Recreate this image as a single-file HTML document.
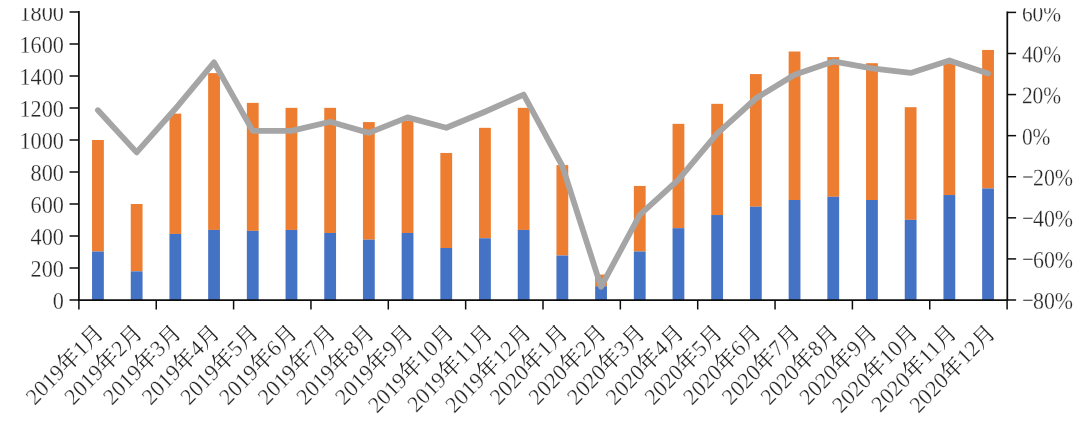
<!DOCTYPE html>
<html lang="zh"><head><meta charset="utf-8"><title>chart</title>
<style>
html,body{margin:0;padding:0;background:#fff;}
body{width:1080px;height:430px;overflow:hidden;}
svg{display:block;}
text{font-family:"Liberation Serif", "Noto Serif CJK SC", serif;font-size:22.4px;fill:#262626;}
.d,.d text{font-size:23.9px;stroke:#fff;stroke-width:0.26px;}
.m{font-size:21.9px;stroke:none;}
.x{font-size:22.8px;stroke:#fff;stroke-width:0.26px;}
</style></head><body>
<svg width="1080" height="430" viewBox="0 0 1080 430">
<rect width="1080" height="430" fill="#ffffff"/>
<g shape-rendering="auto">
<rect x="92.05" y="140.00" width="11.8" height="111.52" fill="#ED7D31"/><rect x="92.05" y="251.52" width="11.8" height="48.48" fill="#4472C4"/>
<rect x="130.75" y="204.00" width="11.8" height="67.36" fill="#ED7D31"/><rect x="130.75" y="271.36" width="11.8" height="28.64" fill="#4472C4"/>
<rect x="169.45" y="113.60" width="11.8" height="120.32" fill="#ED7D31"/><rect x="169.45" y="233.92" width="11.8" height="66.08" fill="#4472C4"/>
<rect x="208.15" y="73.12" width="11.8" height="156.80" fill="#ED7D31"/><rect x="208.15" y="229.92" width="11.8" height="70.08" fill="#4472C4"/>
<rect x="246.85" y="102.88" width="11.8" height="128.00" fill="#ED7D31"/><rect x="246.85" y="230.88" width="11.8" height="69.12" fill="#4472C4"/>
<rect x="285.55" y="107.84" width="11.8" height="122.08" fill="#ED7D31"/><rect x="285.55" y="229.92" width="11.8" height="70.08" fill="#4472C4"/>
<rect x="324.25" y="107.84" width="11.8" height="125.12" fill="#ED7D31"/><rect x="324.25" y="232.96" width="11.8" height="67.04" fill="#4472C4"/>
<rect x="362.95" y="122.08" width="11.8" height="117.60" fill="#ED7D31"/><rect x="362.95" y="239.68" width="11.8" height="60.32" fill="#4472C4"/>
<rect x="401.65" y="120.48" width="11.8" height="112.48" fill="#ED7D31"/><rect x="401.65" y="232.96" width="11.8" height="67.04" fill="#4472C4"/>
<rect x="440.35" y="152.96" width="11.8" height="95.04" fill="#ED7D31"/><rect x="440.35" y="248.00" width="11.8" height="52.00" fill="#4472C4"/>
<rect x="479.05" y="127.84" width="11.8" height="110.40" fill="#ED7D31"/><rect x="479.05" y="238.24" width="11.8" height="61.76" fill="#4472C4"/>
<rect x="517.75" y="107.84" width="11.8" height="122.08" fill="#ED7D31"/><rect x="517.75" y="229.92" width="11.8" height="70.08" fill="#4472C4"/>
<rect x="556.45" y="165.12" width="11.8" height="90.40" fill="#ED7D31"/><rect x="556.45" y="255.52" width="11.8" height="44.48" fill="#4472C4"/>
<rect x="595.15" y="274.56" width="11.8" height="11.68" fill="#ED7D31"/><rect x="595.15" y="286.24" width="11.8" height="13.76" fill="#4472C4"/>
<rect x="633.85" y="185.92" width="11.8" height="65.60" fill="#ED7D31"/><rect x="633.85" y="251.52" width="11.8" height="48.48" fill="#4472C4"/>
<rect x="672.55" y="123.84" width="11.8" height="104.32" fill="#ED7D31"/><rect x="672.55" y="228.16" width="11.8" height="71.84" fill="#4472C4"/>
<rect x="711.25" y="103.84" width="11.8" height="111.20" fill="#ED7D31"/><rect x="711.25" y="215.04" width="11.8" height="84.96" fill="#4472C4"/>
<rect x="749.95" y="74.08" width="11.8" height="132.64" fill="#ED7D31"/><rect x="749.95" y="206.72" width="11.8" height="93.28" fill="#4472C4"/>
<rect x="788.65" y="51.52" width="11.8" height="148.48" fill="#ED7D31"/><rect x="788.65" y="200.00" width="11.8" height="100.00" fill="#4472C4"/>
<rect x="827.35" y="57.12" width="11.8" height="139.68" fill="#ED7D31"/><rect x="827.35" y="196.80" width="11.8" height="103.20" fill="#4472C4"/>
<rect x="866.05" y="63.20" width="11.8" height="136.80" fill="#ED7D31"/><rect x="866.05" y="200.00" width="11.8" height="100.00" fill="#4472C4"/>
<rect x="904.75" y="107.20" width="11.8" height="112.64" fill="#ED7D31"/><rect x="904.75" y="219.84" width="11.8" height="80.16" fill="#4472C4"/>
<rect x="943.45" y="63.36" width="11.8" height="131.68" fill="#ED7D31"/><rect x="943.45" y="195.04" width="11.8" height="104.96" fill="#4472C4"/>
<rect x="982.15" y="49.92" width="11.8" height="138.56" fill="#ED7D31"/><rect x="982.15" y="188.48" width="11.8" height="111.52" fill="#4472C4"/>
</g>
<polyline points="97.95,110.20 136.65,152.40 175.35,108.80 214.05,62.40 252.75,130.90 291.45,130.90 330.15,121.80 368.85,132.90 407.55,117.40 446.25,127.80 484.95,111.70 523.65,94.60 562.35,166.00 601.05,286.80 639.75,214.80 678.45,179.70 717.15,133.60 755.85,98.50 794.55,74.70 833.25,61.40 871.95,68.40 910.65,72.90 949.35,60.40 988.05,73.40" fill="none" stroke="#A5A5A5" stroke-width="5.8" stroke-linejoin="round" stroke-linecap="round"/>
<g stroke="#0d0d0d" stroke-width="1.75" fill="none">
<line x1="78.9" y1="11.1" x2="78.9" y2="301.0"/>
<line x1="1007.3000000000001" y1="11.55" x2="1007.3000000000001" y2="301.0"/>
<line x1="77.9" y1="300.0" x2="1008.1" y2="300.0"/>
</g>
<g stroke="#0d0d0d" stroke-width="1.5" fill="none">
<line x1="69.5" y1="300.00" x2="78.9" y2="300.00"/><line x1="69.5" y1="268.00" x2="78.9" y2="268.00"/><line x1="69.5" y1="236.00" x2="78.9" y2="236.00"/><line x1="69.5" y1="204.00" x2="78.9" y2="204.00"/><line x1="69.5" y1="172.00" x2="78.9" y2="172.00"/><line x1="69.5" y1="140.00" x2="78.9" y2="140.00"/><line x1="69.5" y1="108.00" x2="78.9" y2="108.00"/><line x1="69.5" y1="76.00" x2="78.9" y2="76.00"/><line x1="69.5" y1="44.00" x2="78.9" y2="44.00"/><line x1="69.5" y1="12.00" x2="78.9" y2="12.00"/>
<line x1="1007.3000000000001" y1="300.00" x2="1016.1" y2="300.00"/><line x1="1007.3000000000001" y1="258.91" x2="1016.1" y2="258.91"/><line x1="1007.3000000000001" y1="217.83" x2="1016.1" y2="217.83"/><line x1="1007.3000000000001" y1="176.74" x2="1016.1" y2="176.74"/><line x1="1007.3000000000001" y1="135.66" x2="1016.1" y2="135.66"/><line x1="1007.3000000000001" y1="94.57" x2="1016.1" y2="94.57"/><line x1="1007.3000000000001" y1="53.49" x2="1016.1" y2="53.49"/><line x1="1007.3000000000001" y1="12.40" x2="1016.1" y2="12.40"/>
<line x1="78.90" y1="300.0" x2="78.90" y2="309.5"/><line x1="156.25" y1="300.0" x2="156.25" y2="309.5"/><line x1="233.60" y1="300.0" x2="233.60" y2="309.5"/><line x1="310.95" y1="300.0" x2="310.95" y2="309.5"/><line x1="388.30" y1="300.0" x2="388.30" y2="309.5"/><line x1="465.65" y1="300.0" x2="465.65" y2="309.5"/><line x1="543.00" y1="300.0" x2="543.00" y2="309.5"/><line x1="620.35" y1="300.0" x2="620.35" y2="309.5"/><line x1="697.70" y1="300.0" x2="697.70" y2="309.5"/><line x1="775.05" y1="300.0" x2="775.05" y2="309.5"/><line x1="852.40" y1="300.0" x2="852.40" y2="309.5"/><line x1="929.75" y1="300.0" x2="929.75" y2="309.5"/><line x1="1007.10" y1="300.0" x2="1007.10" y2="309.5"/>
</g>
<g text-anchor="end" class="d">
<text transform="translate(63.9,308.75) rotate(0.05) scale(0.93,1)">0</text><text transform="translate(63.9,276.75) rotate(0.05) scale(0.93,1)">200</text><text transform="translate(63.9,244.75) rotate(0.05) scale(0.93,1)">400</text><text transform="translate(63.9,212.75) rotate(0.05) scale(0.93,1)">600</text><text transform="translate(63.9,180.75) rotate(0.05) scale(0.93,1)">800</text><text transform="translate(63.9,148.75) rotate(0.05) scale(0.93,1)">1000</text><text transform="translate(63.9,116.75) rotate(0.05) scale(0.93,1)">1200</text><text transform="translate(63.9,84.75) rotate(0.05) scale(0.93,1)">1400</text><text transform="translate(63.9,52.75) rotate(0.05) scale(0.93,1)">1600</text><text transform="translate(63.9,20.75) rotate(0.05) scale(0.93,1)">1800</text>
</g>
<g text-anchor="start" class="d">
<text transform="translate(1022.3,308.75) rotate(0.05) scale(0.915,1)"><tspan class="m" dy="-1.2">−</tspan><tspan dy="1.2" dx="-0.65">80%</tspan></text><text transform="translate(1022.3,267.66) rotate(0.05) scale(0.915,1)"><tspan class="m" dy="-1.2">−</tspan><tspan dy="1.2" dx="-0.65">60%</tspan></text><text transform="translate(1022.3,226.58) rotate(0.05) scale(0.915,1)"><tspan class="m" dy="-1.2">−</tspan><tspan dy="1.2" dx="-0.65">40%</tspan></text><text transform="translate(1022.3,185.49) rotate(0.05) scale(0.915,1)"><tspan class="m" dy="-1.2">−</tspan><tspan dy="1.2" dx="-0.65">20%</tspan></text><text transform="translate(1021.9,144.41) rotate(0.05) scale(0.895,1)">0%</text><text transform="translate(1021.9,103.32) rotate(0.05) scale(0.895,1)">20%</text><text transform="translate(1021.9,62.24) rotate(0.05) scale(0.895,1)">40%</text><text transform="translate(1021.9,21.15) rotate(0.05) scale(0.895,1)">60%</text>
</g>
<g text-anchor="end">
<text transform="translate(105.04,333.90) scale(0.978,1) rotate(-45)"><tspan class="x">2019</tspan>年<tspan class="x">1</tspan>月</text>
<text transform="translate(143.71,333.90) scale(0.978,1) rotate(-45)"><tspan class="x">2019</tspan>年<tspan class="x">2</tspan>月</text>
<text transform="translate(182.39,333.90) scale(0.978,1) rotate(-45)"><tspan class="x">2019</tspan>年<tspan class="x">3</tspan>月</text>
<text transform="translate(221.06,333.90) scale(0.978,1) rotate(-45)"><tspan class="x">2019</tspan>年<tspan class="x">4</tspan>月</text>
<text transform="translate(259.74,333.90) scale(0.978,1) rotate(-45)"><tspan class="x">2019</tspan>年<tspan class="x">5</tspan>月</text>
<text transform="translate(298.41,333.90) scale(0.978,1) rotate(-45)"><tspan class="x">2019</tspan>年<tspan class="x">6</tspan>月</text>
<text transform="translate(337.09,333.90) scale(0.978,1) rotate(-45)"><tspan class="x">2019</tspan>年<tspan class="x">7</tspan>月</text>
<text transform="translate(375.76,333.90) scale(0.978,1) rotate(-45)"><tspan class="x">2019</tspan>年<tspan class="x">8</tspan>月</text>
<text transform="translate(414.44,333.90) scale(0.978,1) rotate(-45)"><tspan class="x">2019</tspan>年<tspan class="x">9</tspan>月</text>
<text transform="translate(455.21,333.90) scale(0.978,1) rotate(-45)"><tspan class="x">2019</tspan>年<tspan class="x">10</tspan>月</text>
<text transform="translate(493.89,333.90) scale(0.978,1) rotate(-45)"><tspan class="x">2019</tspan>年<tspan class="x">11</tspan>月</text>
<text transform="translate(532.56,333.90) scale(0.978,1) rotate(-45)"><tspan class="x">2019</tspan>年<tspan class="x">12</tspan>月</text>
<text transform="translate(569.14,333.90) scale(0.978,1) rotate(-45)"><tspan class="x">2020</tspan>年<tspan class="x">1</tspan>月</text>
<text transform="translate(607.81,333.90) scale(0.978,1) rotate(-45)"><tspan class="x">2020</tspan>年<tspan class="x">2</tspan>月</text>
<text transform="translate(646.49,333.90) scale(0.978,1) rotate(-45)"><tspan class="x">2020</tspan>年<tspan class="x">3</tspan>月</text>
<text transform="translate(685.16,333.90) scale(0.978,1) rotate(-45)"><tspan class="x">2020</tspan>年<tspan class="x">4</tspan>月</text>
<text transform="translate(723.84,333.90) scale(0.978,1) rotate(-45)"><tspan class="x">2020</tspan>年<tspan class="x">5</tspan>月</text>
<text transform="translate(762.51,333.90) scale(0.978,1) rotate(-45)"><tspan class="x">2020</tspan>年<tspan class="x">6</tspan>月</text>
<text transform="translate(801.19,333.90) scale(0.978,1) rotate(-45)"><tspan class="x">2020</tspan>年<tspan class="x">7</tspan>月</text>
<text transform="translate(839.86,333.90) scale(0.978,1) rotate(-45)"><tspan class="x">2020</tspan>年<tspan class="x">8</tspan>月</text>
<text transform="translate(878.54,333.90) scale(0.978,1) rotate(-45)"><tspan class="x">2020</tspan>年<tspan class="x">9</tspan>月</text>
<text transform="translate(919.31,333.90) scale(0.978,1) rotate(-45)"><tspan class="x">2020</tspan>年<tspan class="x">10</tspan>月</text>
<text transform="translate(957.99,333.90) scale(0.978,1) rotate(-45)"><tspan class="x">2020</tspan>年<tspan class="x">11</tspan>月</text>
<text transform="translate(996.66,333.90) scale(0.978,1) rotate(-45)"><tspan class="x">2020</tspan>年<tspan class="x">12</tspan>月</text>
</g>
<rect x="0" y="0" width="1080" height="8.2" fill="#ffffff"/>
</svg>
</body></html>
